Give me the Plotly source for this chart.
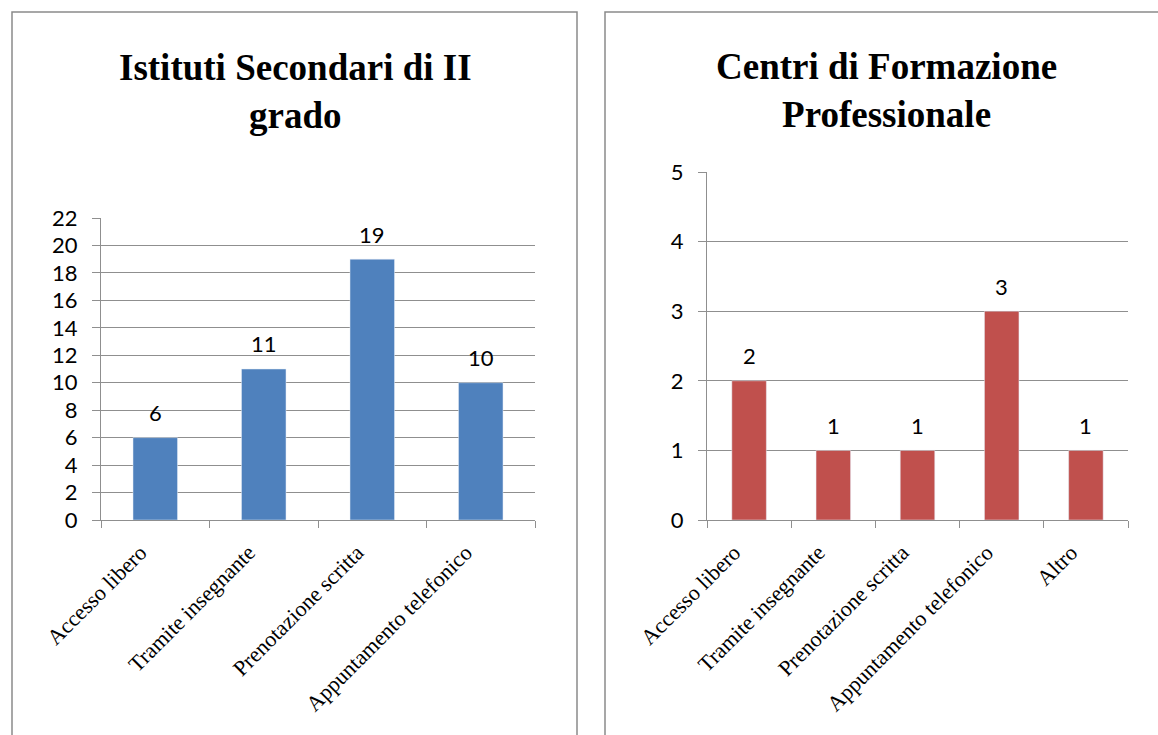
import plotly.graph_objects as go

# ---- data ----
left_title = "Istituti Secondari di II<br>grado"
left_categories = ["Accesso libero", "Tramite insegnante", "Prenotazione scritta", "Appuntamento telefonico"]
left_values = [6, 11, 19, 10]
left_yticks = list(range(0, 23, 2))

right_title = "Centri di Formazione<br>Professionale"
right_categories = ["Accesso libero", "Tramite insegnante", "Prenotazione scritta", "Appuntamento telefonico", "Altro"]
right_values = [2, 1, 1, 3, 1]
right_yticks = list(range(0, 6, 1))

W, H = 1158, 735
BLUE = "#4F81BD"
RED = "#C0504D"
GRID = "#8f8f8f"
BORDER = "#8a8a8a"
NUM_FONT = "Lato, Open Sans, sans-serif"
SERIF = "Liberation Serif, Times New Roman, serif"

def px_x(p):
    return p / W

def px_y(p):
    return 1 - p / H

def bold(t):
    return "<br>".join("<b>" + s + "</b>" for s in t.split("<br>"))

fig = go.Figure()

fig.add_trace(go.Bar(x=left_categories, y=left_values, marker_color=BLUE, width=0.41,
                     xaxis="x", yaxis="y", showlegend=False, hoverinfo="x+y"))
fig.add_trace(go.Bar(x=right_categories, y=right_values, marker_color=RED, width=0.41,
                     xaxis="x2", yaxis="y2", showlegend=False, hoverinfo="x+y"))

annotations = []
for c, v in zip(left_categories, left_values):
    annotations.append(dict(x=c, y=v, xref="x", yref="y", text=str(v), showarrow=False,
                            yanchor="middle", yshift=25, font=dict(family=NUM_FONT, size=22, color="#000")))
for c, v in zip(right_categories, right_values):
    annotations.append(dict(x=c, y=v, xref="x2", yref="y2", text=str(v), showarrow=False,
                            yanchor="middle", yshift=25, font=dict(family=NUM_FONT, size=22, color="#000")))

# titles
annotations.append(dict(x=px_x(295), y=px_y(92), xref="paper", yref="paper", text=bold(left_title),
                        showarrow=False, xanchor="center", yanchor="middle",
                        font=dict(family=SERIF, size=37, color="#000"), align="center"))
annotations.append(dict(x=px_x(886), y=px_y(90), xref="paper", yref="paper", text=bold(right_title),
                        showarrow=False, xanchor="center", yanchor="middle",
                        font=dict(family=SERIF, size=37, color="#000"), align="center"))

xaxis_common = dict(type="category", tickson="boundaries", ticks="outside", ticklen=7,
                    tickcolor=GRID, showline=True, linecolor=GRID, linewidth=1,
                    showgrid=False, tickangle=-45, zeroline=False, automargin=False,
                    ticklabelshift=-15, ticklabelstandoff=10,
                    tickfont=dict(family=SERIF, size=22, color="#000"))
yaxis_common = dict(ticks="outside", ticklen=8, tickcolor=GRID, showline=True, linecolor=GRID,
                    linewidth=1, showgrid=True, gridcolor=GRID, gridwidth=1, zeroline=False,
                    automargin=False,
                    tickfont=dict(family=NUM_FONT, size=22, color="#000"), ticklabelstandoff=10)

fig.update_layout(
    width=W, height=H,
    margin=dict(l=0, r=0, t=0, b=0, pad=0, autoexpand=False),
    paper_bgcolor="white", plot_bgcolor="white",
    showlegend=False,
    xaxis=dict(xaxis_common, domain=[px_x(101), px_x(535)], anchor="y", range=[-0.5, 3.5]),
    yaxis=dict(yaxis_common, domain=[px_y(520), px_y(218)], anchor="x", range=[0, 22],
               tickvals=left_yticks),
    xaxis2=dict(xaxis_common, domain=[px_x(707), px_x(1128)], anchor="y2", range=[-0.5, 4.5]),
    yaxis2=dict(yaxis_common, domain=[px_y(520), px_y(172)], anchor="x2", range=[0, 5],
                tickvals=right_yticks),
    annotations=annotations,
    shapes=[
        dict(type="rect", xref="paper", yref="paper", x0=px_x(12), x1=px_x(577),
             y0=px_y(760), y1=px_y(12), line=dict(color=BORDER, width=1.5), layer="below"),
        dict(type="rect", xref="paper", yref="paper", x0=px_x(605), x1=px_x(1185),
             y0=px_y(760), y1=px_y(12), line=dict(color=BORDER, width=1.5), layer="below"),
    ],
)

fig.write_html("out.html")
